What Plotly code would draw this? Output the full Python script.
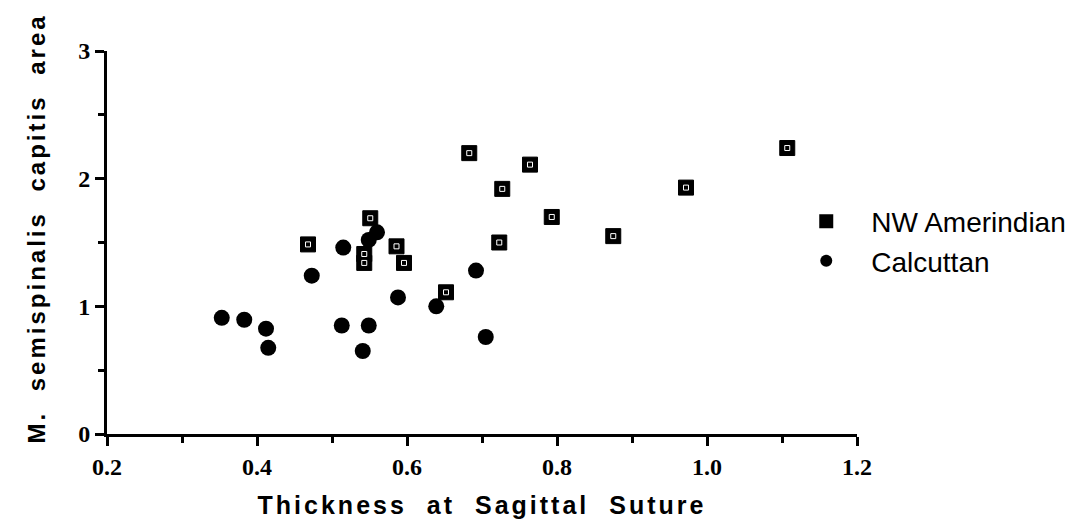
import plotly.graph_objects as go

# Skull thickness at the sagittal suture vs. M. semispinalis capitis area
amer_x = [0.468, 0.551, 0.543, 0.543, 0.586, 0.596, 0.652, 0.683, 0.723, 0.727, 0.764, 0.793, 0.875, 0.972, 1.107]
amer_y = [1.485, 1.69, 1.41, 1.34, 1.47, 1.34, 1.11, 2.20, 1.50, 1.92, 2.11, 1.70, 1.55, 1.93, 2.24]

calc_x = [0.353, 0.383, 0.412, 0.415, 0.473, 0.513, 0.515, 0.541, 0.549, 0.549, 0.560, 0.588, 0.639, 0.692, 0.705]
calc_y = [0.91, 0.895, 0.825, 0.675, 1.24, 0.85, 1.46, 0.65, 0.85, 1.52, 1.58, 1.07, 1.00, 1.28, 0.76]

x_ticks = [0.2, 0.4, 0.6, 0.8, 1.0, 1.2]
y_ticks = [0, 1, 2, 3]

sans = "Liberation Sans, Arial, sans-serif"
serif = "Liberation Serif, Times New Roman, serif"

fig = go.Figure()
fig.add_trace(go.Scatter(
    x=amer_x, y=amer_y, mode="markers", name="NW Amerindian",
    marker=dict(symbol="square", size=15, color="black", line=dict(color="black", width=1)),
))
fig.add_trace(go.Scatter(
    x=amer_x, y=amer_y, mode="markers", showlegend=False, hoverinfo="skip",
    marker=dict(symbol="square-open", size=5, color="white", line=dict(color="white", width=1)),
))
fig.add_trace(go.Scatter(
    x=calc_x, y=calc_y, mode="markers", name="Calcuttan",
    marker=dict(symbol="circle", size=16, color="black"),
))

axis_common = dict(
    showline=True, linecolor="black", linewidth=3, mirror=False,
    showgrid=False, zeroline=False,
    ticks="outside", tickcolor="black", tickwidth=3, ticklen=9,
    tickfont=dict(family=serif, size=24, color="black", weight="bold"),
)

fig.update_xaxes(
    range=[0.2, 1.2], tickvals=x_ticks, ticktext=[f"{v:.1f}" for v in x_ticks],
    minor=dict(dtick=0.1, ticks="outside", ticklen=6, tickwidth=3, tickcolor="black"),
    title=dict(text="Thickness at Sagittal Suture", standoff=18,
               font=dict(family=sans, size=25, color="black", weight="bold")),
    **axis_common,
)
fig.update_yaxes(
    range=[0, 3], tickvals=y_ticks, ticktext=[str(v) for v in y_ticks],
    minor=dict(dtick=0.5, ticks="outside", ticklen=6, tickwidth=3, tickcolor="black"),
    title=dict(text="M. semispinalis capitis area", standoff=26,
               font=dict(family=sans, size=24, color="black", weight="bold")),
    **axis_common,
)

fig.update_layout(
    width=1082, height=526,
    margin=dict(l=107, r=225, t=51, b=92, autoexpand=False),
    paper_bgcolor="white", plot_bgcolor="white",
    showlegend=True,
    legend=dict(x=0.899, y=0.62, xanchor="left", yanchor="top",
                font=dict(family=sans, size=28, color="black"),
                bgcolor="rgba(0,0,0,0)", itemsizing="constant", itemwidth=80,
                tracegroupgap=0),
)

# Widely spaced lettering for the axis titles; y title sits a little high
spacing_js = """
document.querySelectorAll('.xtitle, .ytitle').forEach(function (t) {
    t.style.letterSpacing = '3px';
    t.style.wordSpacing = '10px';
});
document.querySelectorAll('.ytitle').forEach(function (t) {
    t.setAttribute('transform', 'translate(0,-14) ' + (t.getAttribute('transform') || ''));
});
"""

fig.write_html("out.html", post_script=spacing_js)
